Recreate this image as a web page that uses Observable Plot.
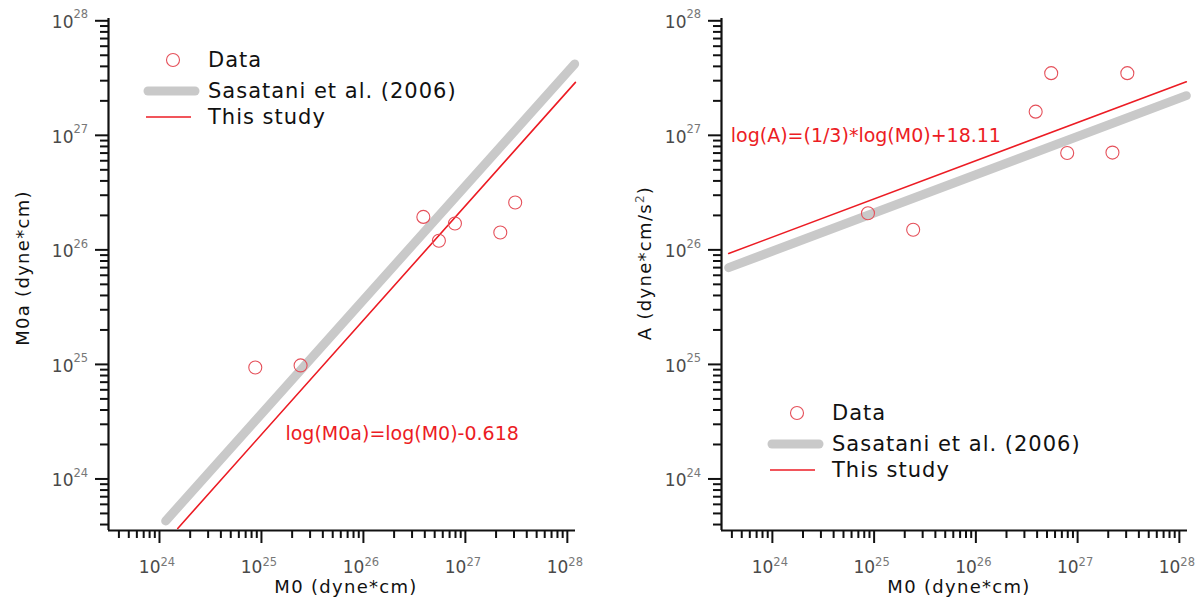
<!DOCTYPE html>
<html><head><meta charset="utf-8">
<script src="https://cdn.jsdelivr.net/npm/d3@7"></script>
<script src="https://cdn.jsdelivr.net/npm/@observablehq/plot@0.6"></script>
<style>
body{margin:0;background:#fff;}
#wrap{position:relative;width:1199px;height:598px;overflow:hidden;font-family:"DejaVu Sans",sans-serif;background:#fff;}
.panel{position:absolute;top:0;}
.leg{position:absolute;font-family:"DejaVu Sans",sans-serif;font-size:21px;color:#111;line-height:1;}
.leg .row{position:absolute;left:0;white-space:nowrap;letter-spacing:1px;}
.leg svg{position:absolute;overflow:visible;}
</style></head><body><div id="wrap"></div>
<script>
// ---- data ----
const M0  = [8.7e24, 2.42e25, 3.87e26, 5.5e26, 7.9e26, 2.2e27, 3.08e27];
const M0a = [9.4e24, 9.8e24, 1.94e26, 1.2e26, 1.7e26, 1.42e26, 2.59e26];
const A   = [2.09e26, 1.5e26, 1.61e27, 3.49e27, 7.0e26, 7.07e26, 3.49e27];

// fitted relations (endpoints as drawn)
const sasLeftM0   = [1.15e24, 1.18e28];
const sasLeftM0a  = [4.3e23, 4.2e27];
const studyLeftM0 = [1.51e24, 1.2e28];
const studyLeftM0a= [3.7e23, 2.9e27];
const rightM0     = [3.72e23, 1.17e28];
const sasRightA   = [7.0e25, 2.22e27];
const studyRightA = [9.3e25, 2.93e27];

const majorTicks = [1e24, 1e25, 1e26, 1e27, 1e28];
const majorExps  = ["24", "25", "26", "27", "28"];
const minorMult  = [2, 3, 4, 5, 6, 7, 8, 9];
const minorDecades = [1e23, 1e24, 1e25, 1e26, 1e27];

const legendLabels = ["Data", "Sasatani et al. (2006)", "This study"];
const eqLeft  = "log(M0a)=log(M0)-0.618";
const eqRight = "log(A)=(1/3)*log(M0)+18.11";

// ---- helpers ----
const RED = "#ec1c24", DOTC = "#e5505a", GRAY = "#c9c9c9", LBL = "#4a4a4a";
const FONT = "DejaVu Sans, sans-serif";
const xDomain = [10 ** 23.5, 10 ** 28.08];
const yDomain = [10 ** 23.55, 10 ** 28.02];
const minorAll = minorDecades.flatMap(d => minorMult.map(m => m * d));
const minorX = minorAll.filter(v => v >= xDomain[0] && v <= xDomain[1]);
const minorY = minorAll.filter(v => v >= yDomain[0] && v <= yDomain[1]);
const pts = (xs, ys) => xs.map((x, i) => ({x, y: ys[i]}));

function panel({width, marginLeft, marginRight, yVals, sasX, sasY, stX, stY, eq}) {
  return Plot.plot({
    width, height: 598,
    marginLeft, marginRight, marginTop: 18, marginBottom: 68,
    style: {fontFamily: FONT, background: "transparent", overflow: "visible"},
    x: {type: "log", domain: xDomain},
    y: {type: "log", domain: yDomain},
    marks: [
      Plot.axisX(minorX, {tickSize: 8, strokeWidth: 2, stroke: "#111", tickFormat: () => "", label: null}),
      Plot.axisX(majorTicks, {tickSize: 13, strokeWidth: 2, stroke: "#111", tickFormat: () => "", label: null}),
      Plot.axisY(minorY, {tickSize: 8, strokeWidth: 2, stroke: "#111", tickFormat: () => "", label: null}),
      Plot.axisY(majorTicks, {tickSize: 13, strokeWidth: 2, stroke: "#111", tickFormat: () => "", label: null}),
      Plot.ruleY([yDomain[0]], {stroke: "#111", strokeWidth: 2.2}),
      Plot.ruleX([xDomain[0]], {stroke: "#111", strokeWidth: 2.2}),
      // x tick labels
      Plot.text(majorTicks, {x: d => d, frameAnchor: "bottom", text: () => "10", textAnchor: "end", dx: 1, dy: 42, fontSize: 17, fill: LBL}),
      Plot.text(majorTicks, {x: d => d, frameAnchor: "bottom", text: (d, i) => majorExps[i], textAnchor: "start", dx: 1, dy: 35, fontSize: 11.5, fill: "#777"}),
      // y tick labels
      Plot.text(majorTicks, {y: d => d, frameAnchor: "left", text: () => "10", textAnchor: "end", dx: -35, dy: 2, fontSize: 17, fill: LBL}),
      Plot.text(majorTicks, {y: d => d, frameAnchor: "left", text: (d, i) => majorExps[i], textAnchor: "start", dx: -35, dy: -6, fontSize: 11.5, fill: "#777"}),
      // relations
      Plot.line(pts(sasX, sasY), {x: "x", y: "y", stroke: GRAY, strokeWidth: 9, strokeLinecap: "round"}),
      Plot.line(pts(stX, stY), {x: "x", y: "y", stroke: RED, strokeWidth: 1.6}),
      Plot.dot(pts(M0, yVals), {x: "x", y: "y", r: 6.5, stroke: DOTC, strokeWidth: 1.1, fill: "none"}),
      Plot.text([eq.text], {x: eq.x, y: eq.y, text: d => d, textAnchor: "start", fill: RED, fontSize: 19})
    ]
  });
}

const wrap = document.getElementById("wrap");

const left = panel({width: 600, marginLeft: 108, marginRight: 25, yVals: M0a,
  sasX: sasLeftM0, sasY: sasLeftM0a, stX: studyLeftM0, stY: studyLeftM0a,
  eq: {text: eqLeft, x: 1.72e25, y: 2.45e24}});
left.classList.add("panel"); left.style.left = "0px";
wrap.appendChild(left);

const right = panel({width: 599, marginLeft: 121, marginRight: 12, yVals: A,
  sasX: rightM0, sasY: sasRightA, stX: rightM0, stY: studyRightA,
  eq: {text: eqRight, x: 3.9e23, y: 9.9e26}});
right.classList.add("panel"); right.style.left = "600px";
wrap.appendChild(right);

// axis titles
function title(svg, x, y, rot, parts) {
  const t = d3.select(svg).append("text")
    .attr("transform", `translate(${x},${y}) rotate(${rot})`)
    .attr("text-anchor", "middle").attr("font-size", 18).attr("fill", "#111")
    .attr("font-family", FONT).attr("letter-spacing", 1.3);
  parts.forEach(p => {
    const s = t.append("tspan").text(p.t);
    if (p.sup) s.attr("baseline-shift", "60%").attr("font-size", 12).attr("fill", "#555");
  });
}
title(left, 346, 593, 0, [{t: "M0 (dyne*cm)"}]);
title(left, 29, 268, -90, [{t: "M0a (dyne*cm)"}]);
title(right, 359, 593, 0, [{t: "M0 (dyne*cm)"}]);
title(right, 51, 263, -90, [{t: "A (dyne*cm/s"}, {t: "2", sup: true}, {t: ")"}]);

// legends
function legend(x0, y0) {
  const div = document.createElement("div");
  div.className = "leg";
  div.style.left = x0 + "px"; div.style.top = y0 + "px";
  const rowsY = [0, 31, 57];
  legendLabels.forEach((lab, i) => {
    const r = document.createElement("div");
    r.className = "row";
    r.style.top = (rowsY[i] - 10) + "px";
    r.style.left = "0px";
    r.textContent = lab;
    div.appendChild(r);
  });
  const ns = "http://www.w3.org/2000/svg";
  const s = document.createElementNS(ns, "svg");
  s.setAttribute("width", 80); s.setAttribute("height", 80);
  s.style.left = "-70px"; s.style.top = "-10px";
  s.innerHTML = `<circle cx="35" cy="10" r="6.5" fill="none" stroke="${DOTC}" stroke-width="1.1"/>
    <line x1="10" x2="57" y1="41" y2="41" stroke="${GRAY}" stroke-width="9" stroke-linecap="round"/>
    <line x1="8" x2="53" y1="67" y2="67" stroke="${RED}" stroke-width="1.6"/>`;
  div.appendChild(s);
  wrap.appendChild(div);
}
legend(208, 60);
legend(832, 413);
</script></body></html>
